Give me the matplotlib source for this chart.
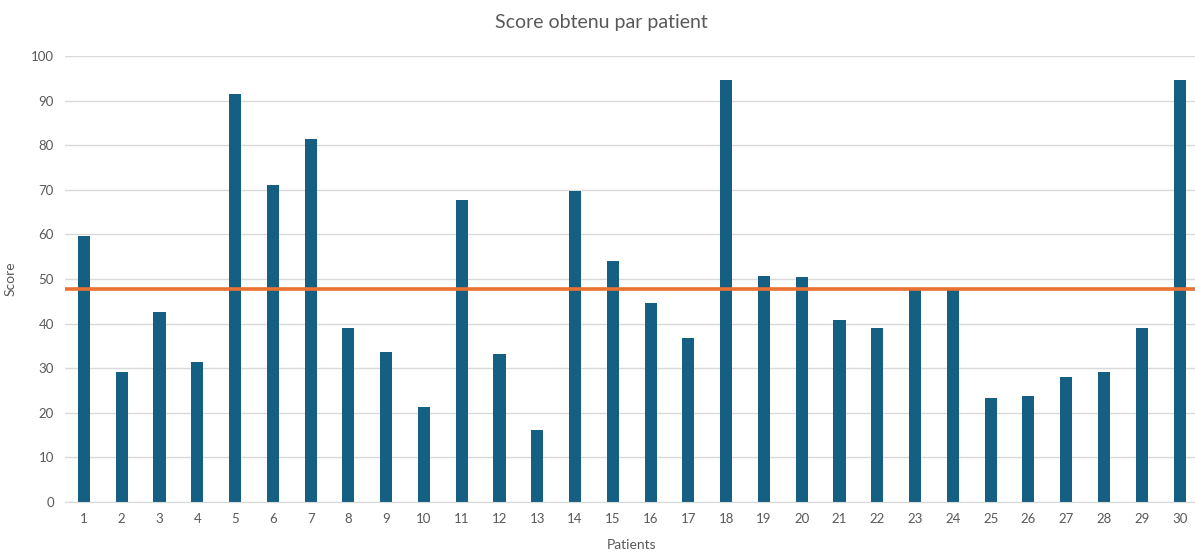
import matplotlib
matplotlib.use("Agg")
import matplotlib.pyplot as plt

patients = list(range(1, 31))
scores = [59.6, 29.1, 42.6, 31.4, 91.5, 71.1, 81.4, 39.0, 33.6, 21.3,
          67.7, 33.2, 16.1, 69.7, 54.0, 44.6, 36.8, 94.6, 50.7, 50.4,
          40.8, 39.0, 48.0, 48.0, 23.3, 23.8, 28.0, 29.1, 39.0, 94.6]
mean_score = [47.8] * len(patients)
y_ticks = list(range(0, 101, 10))

BAR_COLOR = "#156082"
LINE_COLOR = "#E97132"
TEXT_COLOR = "#595959"
GRID_COLOR = "#D9D9D9"

plt.rcParams["font.family"] = ["Lato", "DejaVu Sans"]

fig = plt.figure(figsize=(11.95, 5.52), dpi=100)
ax = fig.add_axes([0.0544, 0.0906, 0.9485, 0.808])

ax.bar(patients, scores, width=0.32, color=BAR_COLOR, zorder=2)
ax.plot([0.5] + patients[1:-1] + [30.5], mean_score, color=LINE_COLOR, lw=2.6,
        solid_capstyle="butt", zorder=3)

ax.set_xlim(0.5, 30.5)
ax.set_ylim(0, 100)
ax.set_yticks(y_ticks)
ax.set_xticks(patients)
ax.grid(axis="y", color=GRID_COLOR, lw=1, zorder=0)
for s in ["top", "right", "left"]:
    ax.spines[s].set_visible(False)
ax.spines["bottom"].set_color(GRID_COLOR)
ax.tick_params(axis="both", length=0, colors=TEXT_COLOR, labelsize=9.5)
ax.tick_params(axis="x", pad=8)
ax.tick_params(axis="y", pad=8)

fig.suptitle("Score obtenu par patient", color=TEXT_COLOR, fontsize=14, x=0.503, y=0.974)
ax.set_xlabel("Patients", color=TEXT_COLOR, fontsize=10, labelpad=10)
ax.set_ylabel("Score", color=TEXT_COLOR, fontsize=10, labelpad=10)

fig.savefig("out.png", dpi=100)
